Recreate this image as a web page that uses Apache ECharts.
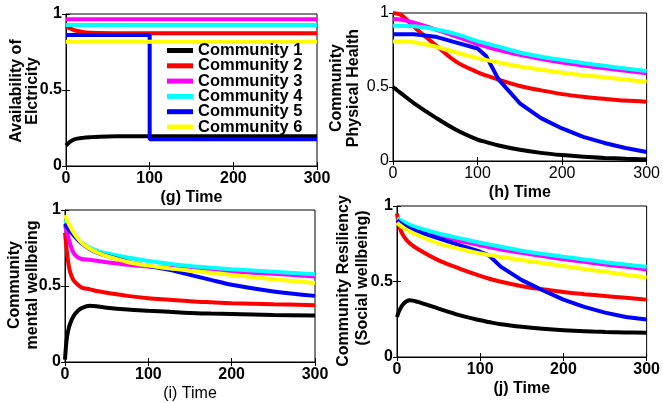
<!DOCTYPE html>
<html><head><meta charset="utf-8">
<script src="https://cdn.jsdelivr.net/npm/echarts@6/dist/echarts.min.js"></script>
<style>html,body{margin:0;padding:0;background:#fff}#c{width:663px;height:403px}</style>
</head><body><div id="c"></div>
<script>
const seriesNames = ['Community 1','Community 2','Community 3','Community 4','Community 5','Community 6'];
const xTicks = [0, 100, 200, 300];
const yTicks = [0, 0.5, 1];

// (g) Availability of electricity
const timeG = [0, 5, 10, 20, 30, 40, 60, 100, 100, 150, 200, 300];
const gC1 = [0.135, 0.16, 0.175, 0.185, 0.19, 0.193, 0.195, 0.195, 0.195, 0.195, 0.195, 0.195];
const gC2 = [0.92, 0.905, 0.893, 0.882, 0.877, 0.875, 0.874, 0.873, 0.873, 0.873, 0.873, 0.873];
const gC3 = [0.965, 0.965, 0.965, 0.965, 0.965, 0.965, 0.965, 0.965, 0.965, 0.965, 0.965, 0.965];
const gC4 = [0.928, 0.928, 0.928, 0.928, 0.928, 0.928, 0.928, 0.928, 0.928, 0.928, 0.928, 0.928];
const gC5 = [0.862, 0.862, 0.862, 0.862, 0.862, 0.862, 0.862, 0.862, 0.176, 0.176, 0.176, 0.176];
const gC6 = [0.818, 0.818, 0.818, 0.818, 0.818, 0.818, 0.818, 0.818, 0.818, 0.818, 0.818, 0.818];

// (h) Community physical health
const timeH = [0, 10, 25, 50, 75, 100, 110, 125, 150, 175, 200, 225, 250, 275, 300];
const hC1 = [0.50, 0.455, 0.39, 0.295, 0.21, 0.145, 0.128, 0.105, 0.076, 0.055, 0.04, 0.029, 0.021, 0.015, 0.01];
const hC2 = [1.0, 0.985, 0.905, 0.785, 0.67, 0.60, 0.578, 0.55, 0.507, 0.477, 0.452, 0.434, 0.42, 0.408, 0.40];
const hC3 = [0.96, 0.955, 0.935, 0.89, 0.84, 0.79, 0.773, 0.75, 0.717, 0.69, 0.665, 0.645, 0.627, 0.61, 0.593];
const hC4 = [0.914, 0.913, 0.91, 0.89, 0.857, 0.81, 0.795, 0.773, 0.733, 0.705, 0.683, 0.662, 0.643, 0.625, 0.608];
const hC5 = [0.857, 0.857, 0.857, 0.84, 0.80, 0.76, 0.71, 0.55, 0.39, 0.29, 0.22, 0.163, 0.122, 0.088, 0.061];
const hC6 = [0.808, 0.808, 0.803, 0.774, 0.733, 0.695, 0.683, 0.665, 0.638, 0.617, 0.597, 0.58, 0.566, 0.55, 0.536];

// (i) Community mental wellbeing
const timeI = [0, 2, 4, 6, 10, 15, 20, 30, 40, 50, 75, 100, 125, 150, 175, 200, 250, 300];
const iC1 = [0.015, 0.15, 0.21, 0.25, 0.30, 0.335, 0.355, 0.37, 0.365, 0.357, 0.345, 0.337, 0.33, 0.323, 0.319, 0.316, 0.31, 0.306];
const iC2 = [0.85, 0.74, 0.65, 0.595, 0.54, 0.51, 0.49, 0.478, 0.465, 0.455, 0.435, 0.42, 0.41, 0.40, 0.393, 0.387, 0.38, 0.374];
const iC3 = [0.90, 0.86, 0.82, 0.78, 0.72, 0.69, 0.678, 0.672, 0.665, 0.656, 0.64, 0.628, 0.62, 0.611, 0.603, 0.595, 0.58, 0.562];
const iC4 = [0.934, 0.915, 0.897, 0.88, 0.845, 0.81, 0.785, 0.752, 0.73, 0.715, 0.687, 0.665, 0.647, 0.632, 0.62, 0.61, 0.593, 0.578];
const iC5 = [0.91, 0.89, 0.875, 0.86, 0.836, 0.805, 0.78, 0.742, 0.716, 0.698, 0.66, 0.632, 0.606, 0.573, 0.54, 0.508, 0.464, 0.435];
const iC6 = [0.967, 0.94, 0.915, 0.893, 0.855, 0.815, 0.785, 0.745, 0.717, 0.696, 0.658, 0.634, 0.616, 0.601, 0.587, 0.573, 0.545, 0.519];

// (j) Community resiliency (social wellbeing)
const timeJ = [0, 3, 8, 15, 25, 50, 75, 100, 110, 125, 150, 175, 200, 225, 250, 275, 300];
const jC1 = [0.265, 0.31, 0.354, 0.376, 0.365, 0.32, 0.277, 0.243, 0.232, 0.217, 0.20, 0.187, 0.177, 0.17, 0.166, 0.163, 0.161];
const jC2 = [0.95, 0.86, 0.80, 0.755, 0.715, 0.64, 0.586, 0.537, 0.52, 0.498, 0.469, 0.448, 0.43, 0.416, 0.404, 0.392, 0.38];
const jC3 = [0.907, 0.90, 0.885, 0.865, 0.84, 0.80, 0.77, 0.74, 0.728, 0.712, 0.69, 0.668, 0.648, 0.63, 0.613, 0.597, 0.58];
const jC4 = [0.918, 0.91, 0.895, 0.877, 0.856, 0.818, 0.787, 0.757, 0.746, 0.73, 0.704, 0.683, 0.664, 0.646, 0.628, 0.612, 0.597];
const jC5 = [0.907, 0.89, 0.87, 0.85, 0.83, 0.785, 0.741, 0.697, 0.675, 0.597, 0.509, 0.442, 0.38, 0.332, 0.294, 0.265, 0.248];
const jC6 = [0.889, 0.875, 0.855, 0.833, 0.807, 0.752, 0.716, 0.686, 0.676, 0.662, 0.642, 0.622, 0.602, 0.583, 0.564, 0.545, 0.527];

const colors = ['#000000', '#ff0000', '#ff00ff', '#00ffff', '#0000ff', '#ffff00'];
const FONT = 'Liberation Sans';

const panels = [
  { time: timeG, vals: [gC1, gC2, gC3, gC4, gC5, gC6], xName: '(g) Time', yLines: ['Availability of', 'Elctricity'],
    grid: { left: 66, top: 14, width: 251, height: 152 }, tickBold: true, xNameBold: true,
    yLabelPos: [[17, 91], [33, 91]], smooth: [true, true, false, false, false, false] },
  { time: timeH, vals: [hC1, hC2, hC3, hC4, hC5, hC6], xName: '(h) Time', yLines: ['Community', 'Physical Health'],
    grid: { left: 393, top: 13, width: 255, height: 148 }, tickBold: false, xNameBold: true,
    yLabelPos: [[337, 88], [354, 88]], smooth: [true, true, true, true, false, true] },
  { time: timeI, vals: [iC1, iC2, iC3, iC4, iC5, iC6], xName: '(i) Time', yLines: ['Community', 'mental wellbeing'],
    grid: { left: 65, top: 210, width: 250, height: 152 }, tickBold: true, xNameBold: false,
    yLabelPos: [[15, 285], [33, 285]], smooth: [true, true, true, true, true, true] },
  { time: timeJ, vals: [jC1, jC2, jC3, jC4, jC5, jC6], xName: '(j) Time', yLines: ['Community Resiliency', '(Social wellbeing)'],
    grid: { left: 397, top: 206, width: 252, height: 151 }, tickBold: true, xNameBold: true,
    yLabelPos: [[344, 281], [363, 278]], smooth: [true, true, true, true, false, true] }
];

const grids = [], xAxes = [], yAxes = [], series = [], graphics = [];
const tickInside = { show: true, inside: true, length: 4, lineStyle: { color: '#000' } };
panels.forEach((p, k) => {
  grids.push(Object.assign({ show: true, borderColor: '#000', borderWidth: 1, backgroundColor: '#fff' }, p.grid));
  const tickStyle = { color: '#000', fontFamily: FONT, fontSize: 16, fontWeight: p.tickBold ? 'bold' : 'normal' };
  const xBase = { type: 'value', gridIndex: k, min: xTicks[0], max: xTicks[xTicks.length - 1], interval: xTicks[1] - xTicks[0], splitLine: { show: false } };
  const yBase = { type: 'value', gridIndex: k, min: yTicks[0], max: yTicks[yTicks.length - 1], interval: yTicks[1] - yTicks[0], splitLine: { show: false } };
  xAxes.push(Object.assign({}, xBase, {
    position: 'bottom',
    name: p.xName, nameLocation: 'middle', nameGap: 24,
    nameTextStyle: { color: '#000', fontFamily: FONT, fontSize: 16, fontWeight: p.xNameBold ? 'bold' : 'normal' },
    axisLine: { show: true, lineStyle: { color: '#000', width: 1 } },
    axisTick: tickInside,
    axisLabel: Object.assign({ margin: 5 }, tickStyle)
  }));
  xAxes.push(Object.assign({}, xBase, {
    position: 'top', axisLine: { show: false }, axisTick: tickInside, axisLabel: { show: false }
  }));
  yAxes.push(Object.assign({}, yBase, {
    position: 'left',
    axisLine: { show: true, lineStyle: { color: '#000', width: 1 } },
    axisTick: tickInside,
    axisLabel: Object.assign({ margin: 4 }, tickStyle)
  }));
  yAxes.push(Object.assign({}, yBase, {
    position: 'right', axisLine: { show: false }, axisTick: tickInside, axisLabel: { show: false }
  }));
  p.yLines.forEach((txt, li) => {
    graphics.push({
      type: 'text', x: p.yLabelPos[li][0], y: p.yLabelPos[li][1], rotation: Math.PI / 2, silent: true,
      style: { text: txt, fill: '#000', font: 'bold 16px "' + FONT + '"', textAlign: 'center', textVerticalAlign: 'middle' }
    });
  });
  p.vals.forEach((v, s) => {
    series.push({
      name: seriesNames[s], type: 'line', xAxisIndex: 2 * k, yAxisIndex: 2 * k,
      data: p.time.map((t, idx) => [t, v[idx]]),
      showSymbol: false, symbol: 'none', smooth: p.smooth[s] ? 0.35 : false,
      lineStyle: { color: colors[s], width: 4 }, itemStyle: { color: colors[s] },
      animation: false
    });
  });
});

const chart = echarts.init(document.getElementById('c'), null, { renderer: 'canvas' });
chart.setOption({
  backgroundColor: '#fff',
  animation: false,
  legend: {
    data: seriesNames, orient: 'vertical', left: 167, top: 42, itemWidth: 26, itemHeight: 5, itemGap: -1.7,
    icon: 'rect', padding: 0,
    textStyle: { color: '#000', fontFamily: FONT, fontSize: 16.5, fontWeight: 'bold', lineHeight: 15 }
  },
  grid: grids, xAxis: xAxes, yAxis: yAxes, series: series,
  graphic: graphics
});
</script></body></html>
